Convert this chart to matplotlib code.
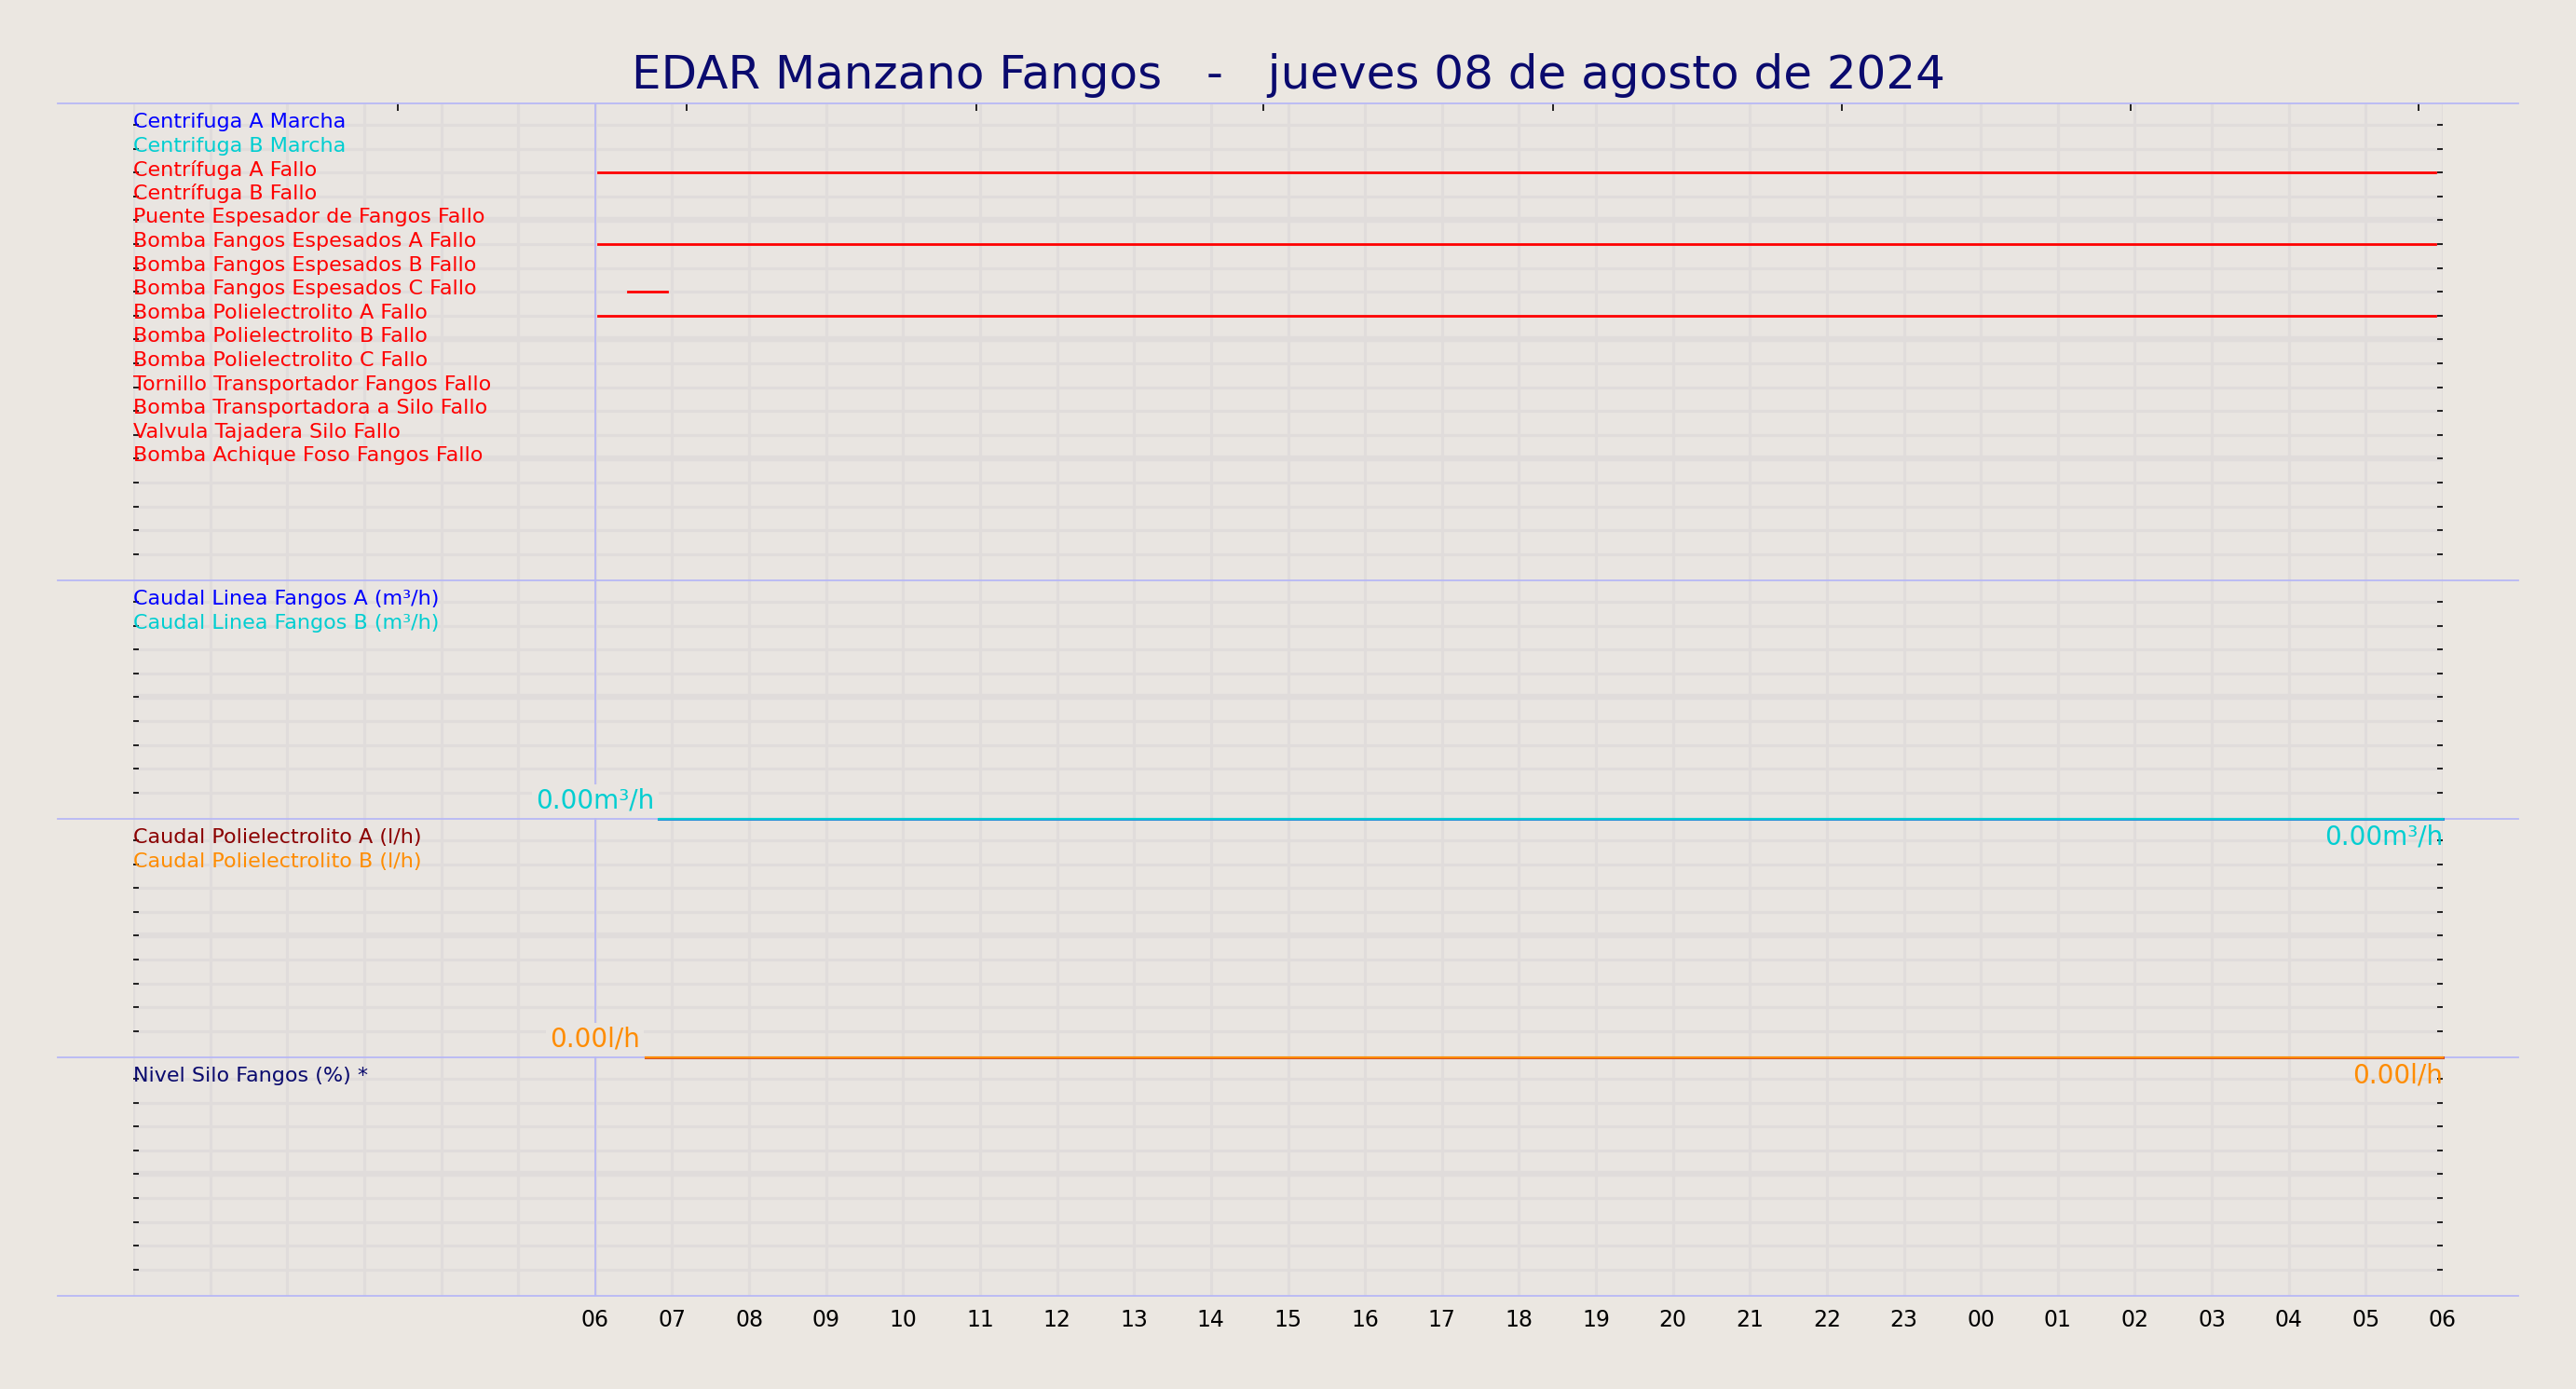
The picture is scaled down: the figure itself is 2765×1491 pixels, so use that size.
import matplotlib
matplotlib.use("Agg")
import matplotlib.pyplot as plt

BG = '#ebe7e1'
AXBG = '#e9e5e1'
GRID = '#e0dcdb'
SEP = '#b8b8f5'

title = "EDAR Manzano Fangos   -   jueves 08 de agosto de 2024"
hour_labels = ['06','07','08','09','10','11','12','13','14','15','16','17','18',
               '19','20','21','22','23','00','01','02','03','04','05','06']

signal_names = ["Centrifuga A Marcha", "Centrifuga B Marcha", "Centrífuga A Fallo",
                "Centrífuga B Fallo", "Puente Espesador de Fangos Fallo",
                "Bomba Fangos Espesados A Fallo", "Bomba Fangos Espesados B Fallo",
                "Bomba Fangos Espesados C Fallo", "Bomba Polielectrolito A Fallo",
                "Bomba Polielectrolito B Fallo", "Bomba Polielectrolito C Fallo",
                "Tornillo Transportador Fangos Fallo", "Bomba Transportadora a Silo Fallo",
                "Valvula Tajadera Silo Fallo", "Bomba Achique Foso Fangos Fallo"]
signal_colors = ['blue', 'darkturquoise'] + ['red'] * 13
# active segments: (signal index, start hour, end hour)
seg_signal = [2, 5, 7, 8]
seg_start = [0.04, 0.04, 0.43, 0.04]
seg_end = [23.9, 23.9, 0.94, 23.9]

flow_names = ["Caudal Linea Fangos A (m³/h)", "Caudal Linea Fangos B (m³/h)"]
flow_label_colors = ['blue', 'darkturquoise']
flow_colors = ['#2a8fd8', 'darkturquoise']
flow_start = 0.83
flow_values = [0.0, 0.0]
poly_names = ["Caudal Polielectrolito A (l/h)", "Caudal Polielectrolito B (l/h)"]
poly_label_colors = ['darkred', 'darkorange']
poly_colors = ['#d0502a', 'darkorange']
poly_start = 0.66
poly_values = [0.0, 0.0]
silo_names = ["Nivel Silo Fangos (%) *"]
silo_colors = ['#0a0a6e']
top_ticks = [-2.56, 1.19, 4.95, 8.68, 12.44, 16.19, 19.95, 23.68]

fig = plt.figure(figsize=(27.65, 14.91), dpi=100, facecolor=BG)
left, right = 143/2765, 2622/2765
top, bottom = 1 - 111/1491, 1 - 1391/1491
gs = fig.add_gridspec(4, 1, height_ratios=[2, 1, 1, 1], hspace=0,
                      left=left, right=right, top=top, bottom=bottom)
axes = [fig.add_subplot(gs[i]) for i in range(4)]
units = [20, 10, 10, 10]
ext = (143 - 62) / (2622 - 143)

for i, ax in enumerate(axes):
    n = units[i]
    ax.set_zorder(10 - i)
    ax.set_facecolor(AXBG)
    ax.set_xlim(-6, 24)
    ax.set_ylim(0, n)
    for s in ax.spines.values():
        s.set_visible(False)
    rows = [n - 0.9 - k for k in range(n - 1)]
    for k, r in enumerate(rows):
        ax.axhline(r, color=GRID, lw=4.5 if k % 5 == 4 else 2.2, zorder=0.5)
    for h in range(-6, 25):
        ax.axvline(h, color=GRID, lw=2.2, zorder=0.5)
    ax.axvline(0, color=SEP, lw=1.3, zorder=0.8)
    ax.set_yticks(rows)
    ax.set_yticklabels([])
    ax.tick_params(axis='y', direction='in', length=4, width=1.2, color='black',
                   left=True, right=True, pad=0)
    ax.set_xticks(list(range(0, 25)))
    ax.tick_params(axis='x', length=0)
    if i < 3:
        ax.set_xticklabels([])
    else:
        ax.set_xticklabels(hour_labels, fontsize=17)
        ax.tick_params(axis='x', pad=10)
    if i == 0:
        ax.axhline(n, xmin=-ext, xmax=1 + ext, color=SEP, lw=1.3, clip_on=False, zorder=1)
    ax.axhline(0, xmin=-ext, xmax=1 + ext, color=SEP, lw=1.3, clip_on=False, zorder=1)

ax1 = axes[0]
sec = ax1.secondary_xaxis('top')
sec.set_xticks(top_ticks)
sec.set_xticklabels([])
sec.tick_params(direction='in', length=6, width=1.2)
for s in sec.spines.values():
    s.set_visible(False)

def add_labels(ax, n, names, colors):
    for k, (nm, c) in enumerate(zip(names, colors)):
        ax.text(-6, n - 0.9 - k + 0.12, nm, color=c, fontsize=16, va='center',
                ha='left', zorder=5)

add_labels(ax1, 20, signal_names, signal_colors)
for si, a, b in zip(seg_signal, seg_start, seg_end):
    y = 20 - 0.9 - si
    ax1.plot([a, b], [y, y], color='red', lw=2, zorder=3)

def value_panel(ax, names, label_colors, colors, start, values, unit):
    add_labels(ax, 10, names, label_colors)
    for c, v in zip(colors, values):
        ax.plot([start, 24], [v, v], color=c, lw=2.2 if c != colors[-1] else 1.5,
                clip_on=False, zorder=3)
    txt = f"{values[-1]:.2f}{unit}"
    ax.text(0, values[-1] + 0.2, txt, color=colors[-1], fontsize=20, ha='center',
            va='bottom', zorder=6,
            bbox=dict(facecolor=AXBG, edgecolor='none', pad=3))
    ax.text(24, values[-1] - 0.2, txt, color=colors[-1], fontsize=20, ha='right',
            va='top', zorder=6, clip_on=False)

value_panel(axes[1], flow_names, flow_label_colors, flow_colors, flow_start, flow_values, "m³/h")
value_panel(axes[2], poly_names, poly_label_colors, poly_colors, poly_start, poly_values, "l/h")
add_labels(axes[3], 10, silo_names, silo_colors)

fig.text(0.5, 1 - 81/1491, title, ha='center', va='center', fontsize=36, color='#0a0a6e')

fig.savefig("out.png", dpi=100, facecolor=BG)
